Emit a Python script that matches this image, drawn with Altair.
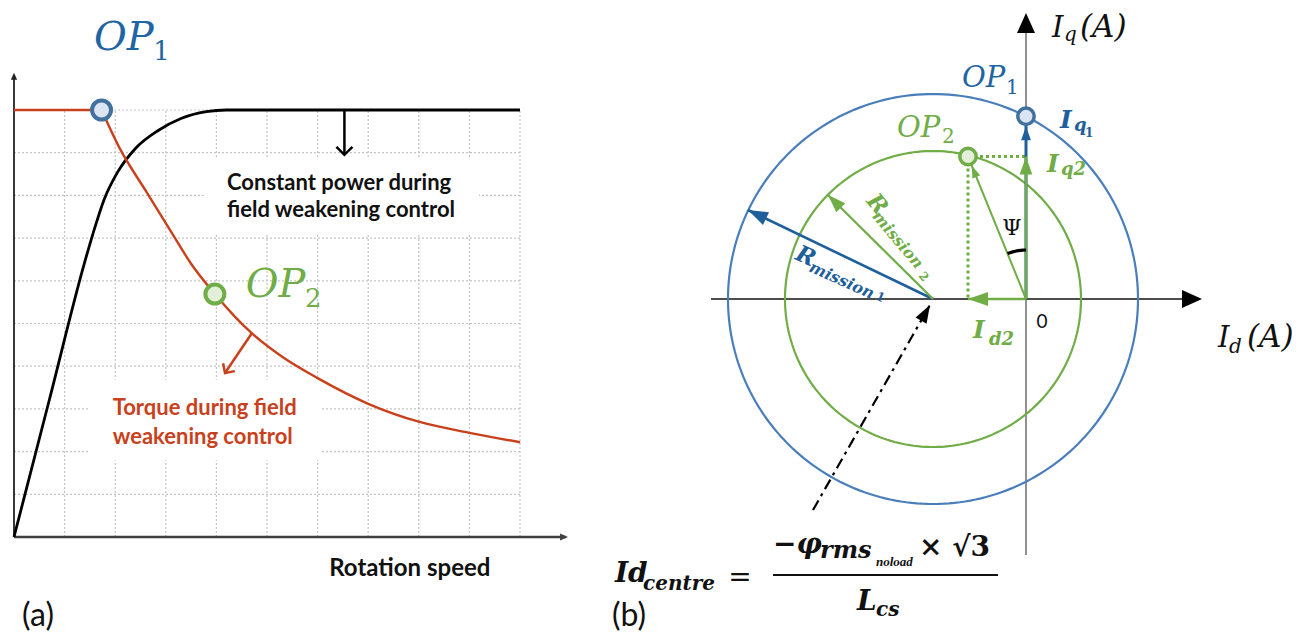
import math
import altair as alt
import numpy as np
import pandas as pd

# ===================== panel (a): data, in grid units =====================
grid_steps = list(range(11))

power_speed = [0.0, 0.70, 1.40, 1.56, 1.78, 2.05, 2.40, 2.85, 3.30, 3.80, 4.20, 10.0]
power_value = [0.0, 3.22, 6.45, 7.10, 7.90, 8.55, 9.10, 9.52, 9.80, 9.96, 10.0, 10.0]

torque_flat_speed = [0.0, 1.73]
torque_flat_value = [10.0, 10.0]
torque_speed = [1.73, 2.09, 2.63, 3.14, 3.50, 3.97, 4.35, 4.72, 5.30, 6.00, 7.00, 8.00, 9.00, 10.0]
torque_value = [10.0, 9.10, 8.06, 7.08, 6.40, 5.69, 5.18, 4.75, 4.22, 3.72, 3.12, 2.70, 2.44, 2.22]

op_a_speed = [1.73, 3.97]
op_a_value = [10.0, 5.69]

power_arrow = [6.53, 10.0, 6.53, 8.95]      # x1, y1, x2, y2
torque_arrow = [4.70, 4.77, 4.17, 3.84]

# ===================== panel (b): data, in current units =====================
id_centre = -1.86
r_mission = [4.10, 2.96]          # R_mission1 (blue), R_mission2 (green)
op1_b = [0.0, 3.654]              # (Id, Iq)
op2_b = [-1.16, 2.85]
r1_tip = [-5.56, 1.78]
r2_tip = [-3.96, 2.08]
dashdot = [-4.26, -4.22, -1.92, -0.12]
psi_radius = 0.98

# ===================== layout =====================
W, H, M = 1294, 628, 8
A_OX, A_OY, A_SX, A_SY = 14.0, 537.0, 50.6, 42.7
B_OX, B_OY, B_S = 1026.0, 299.0, 50.0

sxa = alt.Scale(domain=[(M - A_OX) / A_SX, (M + W - A_OX) / A_SX], nice=False, zero=False)
sya = alt.Scale(domain=[(A_OY - M - H) / A_SY, (A_OY - M) / A_SY], nice=False, zero=False)
sxb = alt.Scale(domain=[(M - B_OX) / B_S, (M + W - B_OX) / B_S], nice=False, zero=False)
syb = alt.Scale(domain=[(B_OY - M - H) / B_S, (B_OY - M) / B_S], nice=False, zero=False)

BLUE_DARK = "#1f5f9b"
BLUE_CIRC = "#4a7ebb"
BLUE_TXT = "#1f64a3"
GREEN = "#70ad47"
RED = "#c9411c"
SERIF = "DejaVu Serif"
SERIF2 = "Liberation Serif"
SANS = "Lato"

ARROW = "M0,0L-0.7,2L0.7,2Z"
AXARROW = "M0,0L-0.9,2L0.9,2Z"
CHEVRON = "M-1,1L0,0L1,1"


def X(s, f="x"):
    return alt.X(f"{f}:Q", scale=s, axis=None)


def Y(s, f="y"):
    return alt.Y(f"{f}:Q", scale=s, axis=None)


def segs(sx, sy, rows, color, width, dash=None, cap="butt"):
    df = pd.DataFrame(rows, columns=["x", "y", "x2", "y2"])
    kw = dict(color=color, strokeWidth=width, strokeCap=cap)
    if dash:
        kw["strokeDash"] = dash
    return alt.Chart(df).mark_rule(**kw).encode(x=X(sx), y=Y(sy), x2="x2:Q", y2="y2:Q")


def curve(sx, sy, xs, ys, color, width, interp="linear"):
    df = pd.DataFrame({"x": list(xs), "y": list(ys), "i": list(range(len(xs)))})
    return alt.Chart(df).mark_line(color=color, strokeWidth=width, interpolate=interp).encode(
        x=X(sx), y=Y(sy), order="i:Q")


def heads(sx, sy, rows, shape, filled=True, sw=2.5):
    df = pd.DataFrame(rows, columns=["x", "y", "a", "s", "c"])
    mk = dict(shape=shape, filled=filled, opacity=1)
    if not filled:
        mk["strokeWidth"] = sw
    return alt.Chart(df).mark_point(**mk).encode(
        x=X(sx), y=Y(sy), angle=alt.Angle("a:Q", scale=None),
        size=alt.Size("s:Q", scale=None), color=alt.Color("c:N", scale=None))


def markers(sx, sy, rows, size, sw):
    df = pd.DataFrame(rows, columns=["x", "y", "f", "c"])
    return alt.Chart(df).mark_point(shape="circle", filled=True, size=size, strokeWidth=sw, opacity=1).encode(
        x=X(sx), y=Y(sy), fill=alt.Fill("f:N", scale=None), stroke=alt.Stroke("c:N", scale=None))


def texts(sx, sy, rows, **props):
    df = pd.DataFrame(rows, columns=["x", "y", "t"])
    return alt.Chart(df).mark_text(**props).encode(x=X(sx), y=Y(sy), text="t:N")


def boxes(sx, sy, rows):
    df = pd.DataFrame(rows, columns=["x", "y", "x2", "y2"])
    return alt.Chart(df).mark_rect(color="white").encode(x=X(sx), y=Y(sy), x2="x2:Q", y2="y2:Q")


def ang_a(dx, dy):
    return math.degrees(math.atan2(dx * A_SX, dy * A_SY)) % 360


def ang_b(dx, dy):
    return math.degrees(math.atan2(dx, dy)) % 360


# ===================== panel (a) =====================
A = (sxa, sya)
gmax = grid_steps[-1]
grid_rows = [(g, 0, g, gmax) for g in grid_steps[1:]] + [(0, g, gmax, g) for g in grid_steps[1:]]

layers_a = [
    segs(*A, grid_rows, "#c4c4c4", 1.2, dash=[2, 2]),
    boxes(*A, [(3.75, 7.12, 9.19, 8.90), (1.48, 1.80, 6.07, 3.68)]),
    segs(*A, [(0, 0, 0, 10.8)], "#222222", 1.8),
    segs(*A, [(0, 0, 10.9, 0)], "#404040", 2.5),
    heads(*A, [(0, 10.87, 0, 49, "#222222"), (10.95, 0, 90, 64, "#404040")], AXARROW),
    curve(*A, power_speed, power_value, "#000000", 2.8, "monotone"),
    curve(*A, torque_flat_speed, torque_flat_value, RED, 2.4),
    curve(*A, torque_speed, torque_value, RED, 2.4, "monotone"),
    segs(*A, [tuple(power_arrow)], "#000000", 2.5),
    segs(*A, [tuple(torque_arrow)], RED, 2.5),
    heads(*A, [
        (power_arrow[2], power_arrow[3], ang_a(power_arrow[2] - power_arrow[0], power_arrow[3] - power_arrow[1]), 256, "#000000"),
        (torque_arrow[2], torque_arrow[3], ang_a(torque_arrow[2] - torque_arrow[0], torque_arrow[3] - torque_arrow[1]), 200, RED),
    ], CHEVRON, filled=False, sw=2.5),
    markers(*A, [(op_a_speed[0], op_a_value[0], "#dbe5f1", "#41719c"),
                 (op_a_speed[1], op_a_value[1], "#e2efd9", GREEN)], 361, 4),
    texts(*A, [(1.58, 11.41, "OP")], font=SERIF, fontSize=40, fontStyle="italic", color=BLUE_TXT, align="left", baseline="alphabetic"),
    texts(*A, [(2.75, 11.17, "1")], font=SERIF, fontSize=26, color=BLUE_TXT, align="left", baseline="alphabetic"),
    texts(*A, [(4.58, 5.62, "OP")], font=SERIF, fontSize=40, fontStyle="italic", color=GREEN, align="left", baseline="alphabetic"),
    texts(*A, [(5.75, 5.39, "2")], font=SERIF, fontSize=26, color=GREEN, align="left", baseline="alphabetic"),
    texts(*A, [(4.21, 8.29, "Constant power during"), (4.21, 7.66, "field weakening control")],
          font=SANS, fontSize=22, fontWeight="bold", color="#111111", align="left", baseline="middle"),
    texts(*A, [(1.95, 3.02, "Torque during field"), (1.95, 2.34, "weakening control")],
          font=SANS, fontSize=22, fontWeight="bold", color=RED, align="left", baseline="middle"),
    texts(*A, [(6.23, -0.75, "Rotation speed")], font=SANS, fontSize=24, fontWeight="bold", color="#111111", align="left", baseline="middle"),
    texts(*A, [(0.16, -1.84, "(a)")], font=SANS, fontSize=32, color="#111111", align="left", baseline="middle"),
]

# ===================== panel (b) =====================
B = (sxb, syb)
t = np.linspace(0, 2 * np.pi, 241)
circ_blue = (id_centre + r_mission[0] * np.cos(t), r_mission[0] * np.sin(t))
circ_green = (id_centre + r_mission[1] * np.cos(t), r_mission[1] * np.sin(t))

psi_end = math.atan2(-op2_b[0], op2_b[1])
th = np.linspace(0, psi_end, 8)
psi_arc = (-psi_radius * np.sin(th), psi_radius * np.cos(th))

op2_len = math.hypot(*op2_b)
op2_head = [op2_b[0] * (1 - 0.2 / op2_len), op2_b[1] * (1 - 0.2 / op2_len)]

b_serif = dict(font=SERIF, align="left", baseline="alphabetic")
b_serif2 = dict(font=SERIF2, align="left", baseline="alphabetic")

layers_b = [
    segs(*B, [(-6.3, 0, 3.3, 0)], "#111111", 1.5),
    segs(*B, [(0, -5.12, 0, 5.4)], "#555555", 1.3),
    heads(*B, [(3.52, 0, 90, 400, "#000000"), (0, 5.72, 0, 400, "#000000")], AXARROW),
    curve(*B, *circ_blue, BLUE_CIRC, 2.2),
    curve(*B, *circ_green, GREEN, 2.2),
    segs(*B, [(id_centre, 0, r1_tip[0], r1_tip[1])], BLUE_DARK, 2.6),
    segs(*B, [(id_centre, 0, r2_tip[0], r2_tip[1])], GREEN, 2.2),
    segs(*B, [(op2_b[0], op2_b[1], 0, op2_b[1]), (op2_b[0], op2_b[1], op2_b[0], 0)], GREEN, 3, dash=[3, 3]),
    segs(*B, [(0, 0, op1_b[0], op1_b[1])], BLUE_DARK, 3),
    segs(*B, [(0, 0, 0, op2_b[1]), (0, 0, op2_b[0], 0)], GREEN, 2.6),
    segs(*B, [(0, 0, op2_b[0], op2_b[1])], GREEN, 2),
    segs(*B, [tuple(dashdot)], "#000000", 2.2, dash=[11, 5, 3, 5]),
    curve(*B, *psi_arc, "#000000", 3.2),
    heads(*B, [
        (r1_tip[0], r1_tip[1], ang_b(r1_tip[0] - id_centre, r1_tip[1]), 400, BLUE_DARK),
        (r2_tip[0], r2_tip[1], ang_b(r2_tip[0] - id_centre, r2_tip[1]), 324, GREEN),
        (0, op1_b[1] - 0.2, 0, 196, BLUE_DARK),
        (0, op2_b[1], 0, 324, GREEN),
        (op2_b[0], 0, 270, 400, GREEN),
        (op2_head[0], op2_head[1], ang_b(op2_b[0], op2_b[1]), 144, GREEN),
        (dashdot[2], dashdot[3], ang_b(dashdot[2] - dashdot[0], dashdot[3] - dashdot[1]), 324, "#000000"),
    ], ARROW),
    markers(*B, [(op1_b[0], op1_b[1], "#dbe5f1", "#41719c"),
                 (op2_b[0], op2_b[1], "#e2efd9", GREEN)], 270, 3.5),
    # operating point labels
    texts(*B, [(-1.28, 4.24, "OP")], fontSize=29, fontStyle="italic", color=BLUE_TXT, **b_serif),
    texts(*B, [(-0.40, 4.10, "1")], fontSize=20, color=BLUE_TXT, **b_serif),
    texts(*B, [(-2.58, 3.24, "OP")], fontSize=29, fontStyle="italic", color=GREEN, **b_serif),
    texts(*B, [(-1.68, 3.12, "2")], fontSize=20, color=GREEN, **b_serif),
    # current component labels
    texts(*B, [(0.68, 3.42, "I")], fontSize=25, fontStyle="italic", fontWeight="bold", color=BLUE_DARK, **b_serif),
    texts(*B, [(0.96, 3.36, "q")], fontSize=18, fontStyle="italic", fontWeight="bold", color=BLUE_DARK, **b_serif),
    texts(*B, [(1.18, 3.24, "1")], fontSize=12, fontWeight="bold", color=BLUE_DARK, **b_serif),
    texts(*B, [(0.42, 2.54, "I")], fontSize=25, fontStyle="italic", fontWeight="bold", color=GREEN, **b_serif),
    texts(*B, [(0.70, 2.48, "q2")], fontSize=18, fontStyle="italic", fontWeight="bold", color=GREEN, **b_serif),
    texts(*B, [(-1.06, -0.78, "I")], fontSize=25, fontStyle="italic", fontWeight="bold", color=GREEN, **b_serif),
    texts(*B, [(-0.74, -0.92, "d2")], fontSize=18, fontStyle="italic", fontWeight="bold", color=GREEN, **b_serif),
    texts(*B, [(0.32, -0.46, "0")], font=SANS, fontSize=19, color="#111111", align="center", baseline="middle"),
    texts(*B, [(-0.28, 1.42, "Ψ")], font=SERIF, fontSize=22, color="#111111", align="center", baseline="middle"),
    # axis titles
    texts(*B, [(0.52, 5.24, "I"), (3.84, -0.96, "I")], fontSize=29, fontStyle="italic", color="#111111", **b_serif),
    texts(*B, [(0.76, 5.16, "q"), (4.06, -1.08, "d")], fontSize=20, fontStyle="italic", color="#111111", **b_serif),
    texts(*B, [(1.08, 5.24, "(A)"), (4.42, -0.96, "(A)")], fontSize=31, fontStyle="italic", color="#111111", **b_serif),
    # R_mission labels
    texts(*B, [(-4.64, 0.80, "R")], fontSize=23, fontStyle="italic", fontWeight="bold", color=BLUE_DARK, angle=24, **b_serif),
    texts(*B, [(-4.36, 0.56, "mission")], fontSize=16, fontStyle="italic", fontWeight="bold", color=BLUE_DARK, angle=24, **b_serif),
    texts(*B, [(-3.02, 0.0, "1")], fontSize=12, fontWeight="bold", color=BLUE_DARK, angle=24, **b_serif),
    texts(*B, [(-3.21, 1.95, "R")], fontSize=23, fontStyle="italic", fontWeight="bold", color=GREEN, angle=50, **b_serif),
    texts(*B, [(-3.09, 1.65, "mission")], fontSize=16, fontStyle="italic", fontWeight="bold", color=GREEN, angle=50, **b_serif),
    texts(*B, [(-2.16, 0.46, "2")], fontSize=12, fontWeight="bold", color=GREEN, angle=50, **b_serif),
    # formula
    texts(*B, [(-8.22, -5.66, "Id"), (-5.06, -5.08, "−φ"), (-3.38, -6.22, "L")],
          fontSize=28, fontStyle="italic", fontWeight="bold", color="#111111", **b_serif),
    texts(*B, [(-7.66, -5.82, "centre"), (-3.0, -6.34, "cs")],
          fontSize=20, fontStyle="italic", fontWeight="bold", color="#111111", **b_serif),
    texts(*B, [(-4.12, -5.18, "rms")], fontSize=24, fontStyle="italic", fontWeight="bold", color="#111111", **b_serif),
    texts(*B, [(-3.00, -5.34, "noload")], fontSize=13, fontStyle="italic", fontWeight="bold", color="#111111", **b_serif2),
    texts(*B, [(-2.14, -5.14, "× √3")], fontSize=28, fontWeight="bold", color="#111111", **b_serif),
    texts(*B, [(-5.72, -5.58, "=")], font=SERIF, fontSize=28, color="#111111", align="center", baseline="middle"),
    segs(*B, [(-5.06, -5.52, -0.56, -5.52)], "#111111", 2),
    texts(*B, [(-8.28, -6.34, "(b)")], font=SANS, fontSize=32, color="#111111", align="left", baseline="middle"),
]

panel_a = alt.layer(*layers_a)
panel_b = alt.layer(*layers_b)

chart = (
    alt.layer(panel_a, panel_b)
    .resolve_scale(x="independent", y="independent")
    .properties(width=W, height=H, padding=0, autosize=alt.AutoSizeParams(type="none"))
    .configure_view(stroke=None)
)

chart.save("out.html", embed_options={"renderer": "svg", "actions": False})
